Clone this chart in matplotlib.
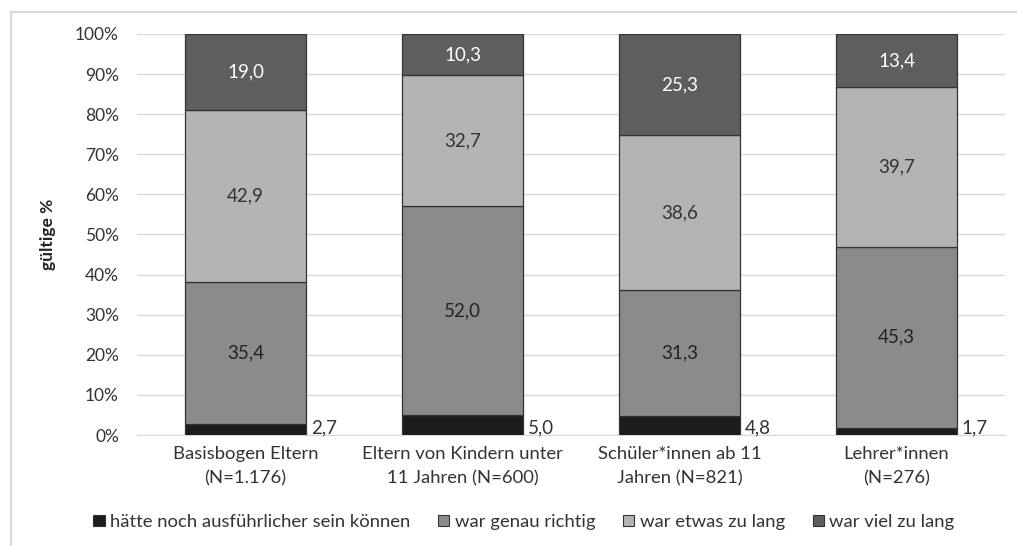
import matplotlib
matplotlib.use("Agg")
import matplotlib.pyplot as plt
import numpy as np
from matplotlib.lines import Line2D
from matplotlib.patches import Patch

plt.rcParams['font.family'] = ['Lato', 'DejaVu Sans']

categories = ["Basisbogen Eltern\n(N=1.176)", "Eltern von Kindern unter\n11 Jahren (N=600)",
              "Schüler*innen ab 11\nJahren (N=821)", "Lehrer*innen\n(N=276)"]
series_names = ["hätte noch ausführlicher sein können", "war genau richtig",
                "war etwas zu lang", "war viel zu lang"]
ausfuehrlicher = [2.7, 5.0, 4.8, 1.7]
genau_richtig = [35.4, 52.0, 31.3, 45.3]
etwas_zu_lang = [42.9, 32.7, 38.6, 39.7]
viel_zu_lang = [19.0, 10.3, 25.3, 13.4]
y_ticks = [0, 10, 20, 30, 40, 50, 60, 70, 80, 90, 100]

series = [ausfuehrlicher, genau_richtig, etwas_zu_lang, viel_zu_lang]
colors = ["#1c1c1c", "#8b8b8b", "#b4b4b4", "#5e5e5e"]
text_colors = ["#333333", "#222222", "#333333", "#ffffff"]

fig = plt.figure(figsize=(10.17, 5.46), dpi=100)
ax = fig.add_axes([137/1017, 1 - 435/546, (1005-137)/1017, (435-34)/546])

x = np.arange(len(categories))
width = 0.553
bottom = np.zeros(len(categories))
for i, (vals, c) in enumerate(zip(series, colors)):
    vals = np.array(vals)
    ax.bar(x, vals, width, bottom=bottom, color=c, edgecolor="#333333", linewidth=0.9,
           label=series_names[i], zorder=3)
    for xi, v, b in zip(x, vals, bottom):
        lab = f"{v:.1f}".replace(".", ",")
        if i == 0:
            ax.text(xi + width/2 + 0.025, 1.9, lab, ha="left", va="center",
                    fontsize=13.5, color=text_colors[i])
        else:
            ax.text(xi, b + v/2, lab, ha="center", va="center", fontsize=13.5,
                    color=text_colors[i])
    bottom = bottom + vals

ax.set_xlim(-0.5, 3.5)
ax.set_ylim(0, 100)
ax.set_yticks(y_ticks)
ax.set_yticklabels([f"{t}%" for t in y_ticks], fontsize=12.5, color="#333333")
ax.set_xticks(x)
ax.set_xticklabels(categories, fontsize=13.3, color="#333333", linespacing=1.6)
ax.tick_params(length=0)
ax.tick_params(axis='x', pad=8)
ax.tick_params(axis='y', pad=13)
ax.grid(axis='y', color="#d9d9d9", linewidth=1, zorder=0)
for s in ["top", "right", "left"]:
    ax.spines[s].set_visible(False)
ax.spines["bottom"].set_color("#d9d9d9")
ax.set_ylabel("gültige %", fontsize=12.5, fontweight="bold", color="#222222")
ax.yaxis.set_label_coords((56 - 137) / 868, 0.5)

handles = [Patch(facecolor=c, edgecolor="#333333", linewidth=0.8) for c in colors]
fig.legend(handles, series_names, loc="center", bbox_to_anchor=(524/1017, 1 - 522/546),
           ncol=4, frameon=False, fontsize=13.3, handlelength=0.6, handleheight=0.6,
           handletextpad=0.3, columnspacing=1.5, labelcolor="#333333")

fig.add_artist(Line2D([11/1017, 1], [1 - 12/546, 1 - 12/546], color="#d9d9d9", linewidth=1.5))
fig.add_artist(Line2D([11/1017, 11/1017], [0, 1 - 12/546], color="#d9d9d9", linewidth=1.5))

fig.savefig("out.png", dpi=100)
